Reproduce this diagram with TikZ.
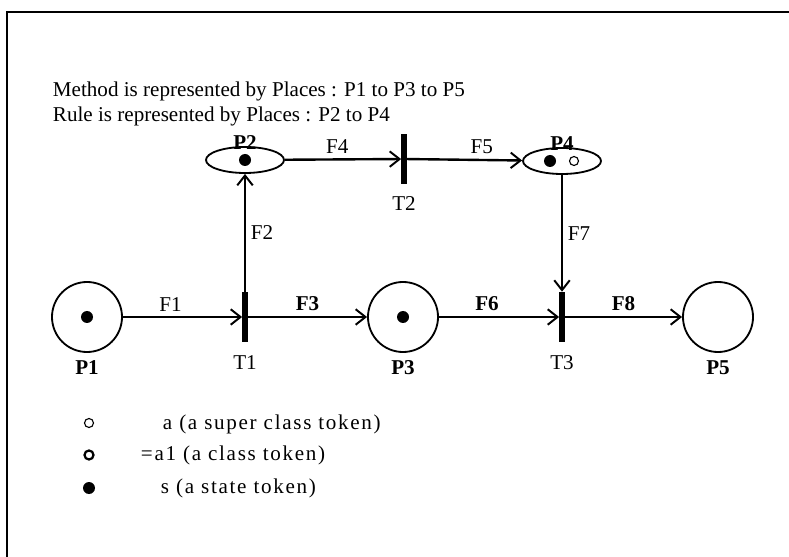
\documentclass[tikz,border=0pt]{standalone}
\usepackage{fontspec}
\setmainfont{Liberation Serif}
\usetikzlibrary{arrows.meta,shapes.geometric}

\begin{document}
\begin{tikzpicture}[x=0.025cm,y=-0.025cm,
		font=\fontsize{15}{18}\selectfont,
		place/.style={circle,draw,line width=1.3pt,minimum size=1.75cm,inner sep=0pt},
		rplace/.style={ellipse,draw,line width=1.3pt,minimum width=1.95cm,minimum height=0.65cm,inner sep=0pt},
		bar/.style={rectangle,fill=black,minimum width=0.13cm,minimum height=1.25cm,inner sep=0pt},
		arc/.style={line width=1.7pt,-{Straight Barb[length=7pt,width=11pt,line width=1.4pt]}},
		plabel/.style={font=\fontsize{15}{18}\selectfont\bfseries},
		legtext/.style={anchor=west,font=\fontsize{15}{18}\selectfont\addfontfeature{LetterSpace=8}}]
		\useasboundingbox (0,0) rectangle (789,557);
		% frame
		\draw[line width=2pt] (7,557) -- (7,12) -- (789,12);
		
		% heading
		\node[anchor=west] (head1) at (48,91) {Method is represented by Places : P1 to P3 to P5};
		\node[anchor=west] (head2) at (48,116) {Rule is represented by Places : P2 to P4};
		
		% places and transitions
		\node[place,label={[plabel,label distance=2pt]below:P1}] (P1) at (87,317) {};
		\node[bar,label={[label distance=6pt]below:T1}] (T1) at (245,317) {};
		\node[place,label={[plabel,label distance=2pt]below:P3}] (P3) at (403,317) {};
		\node[bar,label={[label distance=6pt]below:T3}] (T3) at (562,317) {};
		\node[place,label={[plabel,label distance=2pt]below:P5}] (P5) at (718,317) {};
		\node[rplace,label={[plabel,label distance=-6pt]above:P2}] (P2) at (245,160) {};
		\node[bar,label={[label distance=5pt]below:T2}] (T2) at (404,159) {};
		\node[rplace,label={[plabel,label distance=-6pt]above:P4}] (P4) at (562,161) {};
		
		% tokens
		\foreach \p in {P1,P2,P3}{
			\fill (\p) circle (6);
		}
		\fill ([xshift=-0.3cm]P4.center) circle (6);
		\draw[line width=0.8pt] ([xshift=0.3cm]P4.center) circle (4.5);
		
		% arcs
		\draw[arc] (P1) -- (T1) node[pos=0.4,above] {F1};
		\draw[arc] (T1) -- (P3) node[midway,above,plabel] {F3};
		\draw[arc] (T1.north) -- (P2.south) node[midway,right] {F2};
		\draw[arc] (P2) -- (T2) node[pos=0.45,above] {F4};
		\draw[arc] (T2) -- (P4) node[pos=0.65,above] {F5};
		\draw[arc] (P4.south) -- (T3.north) node[midway,right] {F7};
		\draw[arc] (P3) -- (T3) node[pos=0.4,above,plabel] {F6};
		\draw[arc] (T3) -- (P5) node[midway,above,plabel] {F8};
		
		% legend
		\draw[line width=0.8pt] (89,423) circle (4.5);
		\node[legtext] (leg1) at (158,424) {a (a super class token)};
		\draw[line width=1.6pt] (89,455) circle (4.5);
		\node[legtext] (leg2) at (136,455) {=a1 (a class token)};
		\fill (89,488) circle (6);
		\node[legtext] (leg3) at (156,488) {s (a state token)};
	\end{tikzpicture}
\end{document}
